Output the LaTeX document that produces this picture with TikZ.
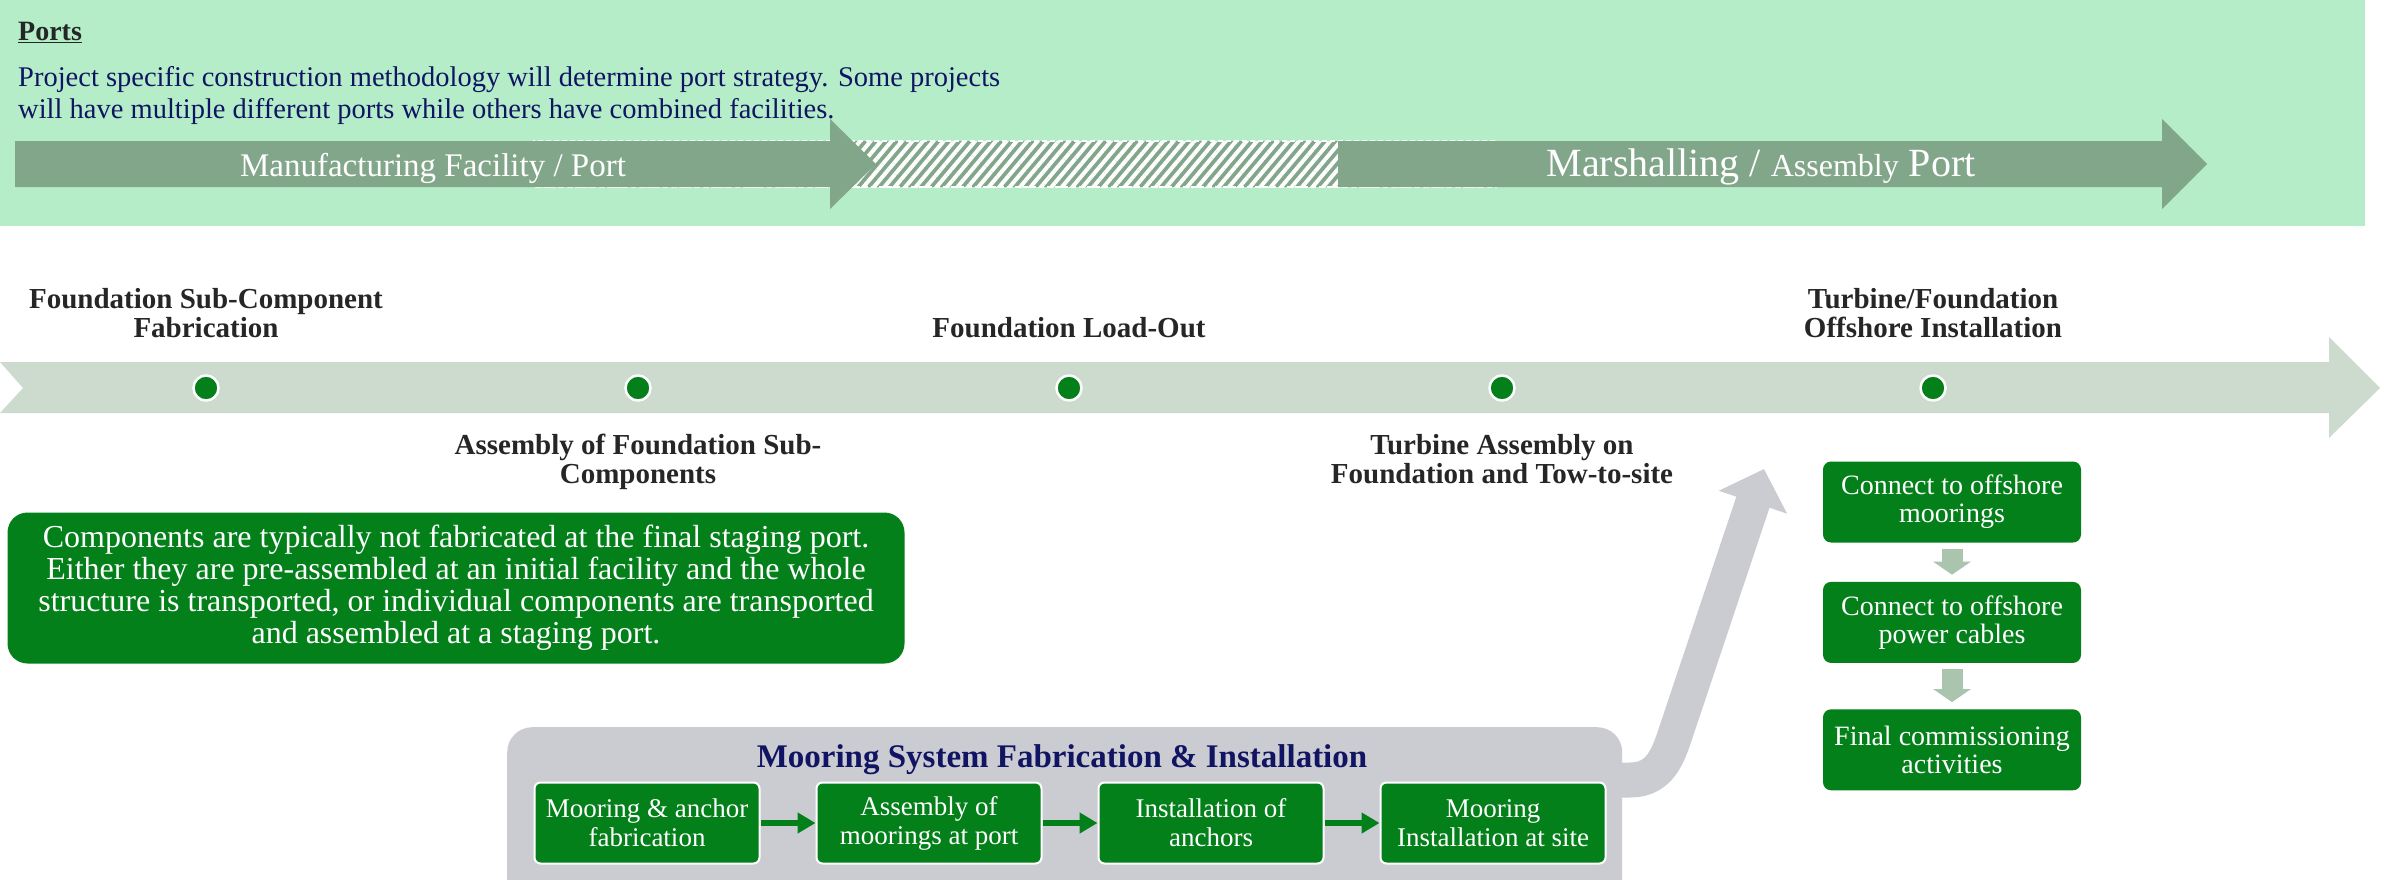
\documentclass[tikz,border=0pt]{standalone}
\usepackage{fontspec}
\setmainfont{Liberation Serif}
\usepackage{tikz}
\usetikzlibrary{arrows.meta,positioning,patterns.meta}
\definecolor{portband}{HTML}{B4EDC8}
\definecolor{portarrow}{HTML}{82A68A}
\definecolor{timeline}{HTML}{CCDBCE}
\definecolor{stagegreen}{HTML}{03801A}
\definecolor{panelgray}{HTML}{CBCCD1}
\definecolor{navytext}{HTML}{101462}
\definecolor{labeltext}{HTML}{262626}
\definecolor{stepgray}{HTML}{AAC4AE}

\begin{document}
\begin{tikzpicture}[x=1pt,y=-1pt,
  node distance=55pt,
  milestone/.style={circle,fill=stagegreen,draw=white,line width=2.5pt,
    minimum size=25pt,inner sep=0pt},
  steplabel/.style={inner sep=0pt,align=center,text=labeltext,
    font=\bfseries\fontsize{29}{29}\selectfont},
  mooringbox/.style={draw=white,line width=2pt,rounded corners=6pt,fill=stagegreen,
    text=white,minimum width=225pt,minimum height=81pt,inner sep=0pt,align=center,
    font=\fontsize{27}{29}\selectfont},
  offshorebox/.style={rounded corners=8pt,fill=stagegreen,text=white,
    minimum width=258pt,minimum height=81pt,inner sep=0pt,align=center,
    font=\fontsize{28}{28}\selectfont},
  mooringarrow/.style={-{Triangle[width=20pt,length=18pt]},line width=6pt,color=stagegreen},
  offshorearrow/.style={-{Triangle[width=37pt,length=13pt]},line width=21pt,color=stepgray,
    shorten <=6pt,shorten >=7pt},
  towarrow/.style={-{Triangle[width=70pt,length=35pt]},line width=35pt,color=panelgray}
]
\useasboundingbox (0,0) rectangle (2381,880);
\clip (0,0) rectangle (2381,880);

% ports band
\fill[portband] (0,0) rectangle (2365,226);
\fill[portarrow] (533,141) rectangle (1496,187);
\fill[pattern={Lines[angle=50,distance=8pt,line width=4pt]},pattern color=white] (533,141) rectangle (1496,187);
\draw[white,line width=1.5pt,dash pattern=on 5pt off 3pt] (533,141) rectangle (1496,187);
\fill[portarrow] (15,141) -- (830,141) -- (830,119) -- (876,164) -- (830,209) -- (830,187) -- (15,187) -- cycle;
\fill[portarrow] (1338,141) -- (2162,141) -- (2162,119) -- (2207,164) -- (2162,209) -- (2162,187) -- (1338,187) -- cycle;

\node[anchor=base west,inner sep=0pt,text=labeltext,font=\bfseries\fontsize{28}{28}\selectfont] (portstitle) at (18,41) {\underline{Ports}};
\node[anchor=north west,inner sep=0pt,align=left,text=navytext,font=\fontsize{28.5}{32}\selectfont] (portsnote) at (18,66)
  {Project specific construction methodology will determine port strategy. Some projects\\will have multiple different ports while others have combined facilities.};
\node[anchor=base,inner sep=0pt,text=white,font=\fontsize{33}{33}\selectfont] (manufport) at (433,176) {Manufacturing Facility / Port};
\node[anchor=base,inner sep=0pt,text=white,font=\fontsize{40}{40}\selectfont] (marshport) at (1761,176)
  {Marshalling / {\fontsize{32}{32}\selectfont Assembly} Port};

% timeline
\fill[timeline] (0,362) -- (2329,362) -- (2329,337) -- (2380,388) -- (2329,438) -- (2329,413) -- (0,413) -- (23,388) -- cycle;
\foreach \x [count=\i] in {206,638,1069,1502,1933}
  \node[milestone] (ms\i) at (\x,388) {};

\node[steplabel,above=36pt of ms1] (subfab) {Foundation Sub-Component\\Fabrication};
\node[steplabel,below=32pt of ms2] (subassy) {Assembly of Foundation Sub-\\Components};
\node[steplabel,above=36pt of ms3] (loadout) {Foundation Load-Out};
\node[steplabel,below=32pt of ms4] (towsite) {Turbine Assembly on\\Foundation and Tow-to-site};
\node[steplabel,above=36pt of ms5] (offinst) {Turbine/Foundation\\Offshore Installation};

\node[fill=stagegreen,rounded corners=20pt,minimum width=897pt,minimum height=151pt,inner sep=0pt,
  text=white,align=center,font=\fontsize{32}{32}\selectfont] (stagingnote) at (456,588)
  {Components are typically not fabricated at the final staging port.\\
   Either they are pre-assembled at an initial facility and the whole\\
   structure is transported, or individual components are transported\\
   and assembled at a staging port.};

% mooring system
\coordinate (towfoot) at (1590,780);
\coordinate (towtip) at (1764,469);
\draw[towarrow] (towfoot) -- (1630,780) .. controls (1660,780) and (1668,756) .. (1676,732) -- (towtip);

\node[fill=panelgray,rounded corners=25pt,minimum width=1115pt,minimum height=190pt,inner sep=0pt,
  anchor=north west] (mooringpanel) at (507,727) {};
\node[anchor=base,inner sep=0pt,text=navytext,font=\bfseries\fontsize{33}{33}\selectfont] (mooringtitle) at (1062,767)
  {Mooring System Fabrication \& Installation};

\node[mooringbox] (moor1) at (647,823) {Mooring \& anchor\\fabrication};
\node[mooringbox,right=of moor1] (moor2) {Assembly of\\moorings at port};
\node[mooringbox,right=of moor2] (moor3) {Installation of\\anchors};
\node[mooringbox,right=of moor3] (moor4) {Mooring\\Installation at site};
\foreach \a/\b in {moor1/moor2,moor2/moor3,moor3/moor4}
  \draw[mooringarrow] (\a) -- (\b);

% offshore steps
\node[offshorebox] (conn1) at (1952,502) {Connect to offshore\\moorings};
\node[offshorebox,below=39pt of conn1] (conn2) {Connect to offshore\\power cables};
\node[offshorebox,below=46pt of conn2] (commis) {Final commissioning\\activities};
\draw[offshorearrow] (conn1) -- (conn2);
\draw[offshorearrow] (conn2) -- (commis);
\end{tikzpicture}
\end{document}
